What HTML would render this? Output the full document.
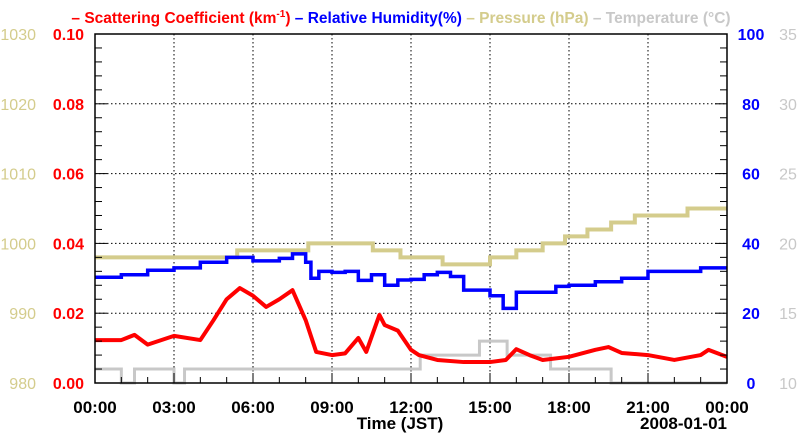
<!DOCTYPE html>
<html><head><meta charset="utf-8"><style>
body{margin:0;background:#fff;}
svg{display:block;font-family:"Liberation Sans",sans-serif;}
</style></head><body>
<svg id="c" width="800" height="434">
<text x="401" y="23" text-anchor="middle" font-size="15.5" font-weight="bold"><tspan fill="#ff0000">– Scattering Coefficient (km</tspan><tspan fill="#ff0000" font-size="10" dy="-6">-1</tspan><tspan fill="#ff0000" dy="6">) </tspan><tspan fill="#0000ff">– Relative Humidity(%) </tspan><tspan fill="#d4cc8c">– Pressure (hPa) </tspan><tspan fill="#c8c8c8">– Temperature (°C)</tspan></text>
<g id="grid"></g>
<g id="series"></g>
<g id="axes"></g>
<text x="400" y="429" text-anchor="middle" font-size="17" font-weight="bold">Time (JST)</text>
<text x="727" y="429" text-anchor="end" font-size="17" font-weight="bold">2008-01-01</text>
</svg>
<script>
const xTicks=["00:00","03:00","06:00","09:00","12:00","15:00","18:00","21:00","00:00"];
const scatTicks=["0.00","0.02","0.04","0.06","0.08","0.10"];
const presTicks=["980","990","1000","1010","1020","1030"];
const rhTicks=["0","20","40","60","80","100"];
const tempTicks=["10","15","20","25","30","35"];
const scatH=[0,1,1.5,2,3,4,4.5,5,5.5,6,6.5,7,7.5,8,8.4,9,9.5,10,10.3,10.8,11,11.5,12,12.3,13,14,15,15.6,16,16.5,17,18,19,19.5,20,21,22,23,23.3,24];
const scatV=[0.0123,0.0123,0.0138,0.011,0.0135,0.0123,0.018,0.024,0.0272,0.025,0.0218,0.024,0.0266,0.018,0.0089,0.008,0.0085,0.0129,0.0089,0.0195,0.0166,0.015,0.0095,0.008,0.0066,0.006,0.006,0.0066,0.0097,0.008,0.0066,0.0075,0.0095,0.0103,0.0086,0.008,0.0066,0.008,0.0095,0.0075];
const rhH=[0,1,2,3,4,5,6,7,7.5,8,8.2,8.5,9,9.5,10,10.5,11,11.5,12,12.5,13,13.5,14,15,15.5,16,17,17.5,18,19,20,21,22,23,24];
const rhV=[30.3,31,32.3,33,34.6,36,35,35.7,37,34.6,30,32,31.7,32,29.4,31,28,29.5,29.7,31,31.7,30.5,26.6,25,21.4,26,26,27.7,28,29,30,32,32,33,33];
const presH=[0,5.4,8.1,10.55,11.6,13.2,15.0,16.0,17.0,17.85,18.7,19.6,20.5,22.5,24];
const presV=[998,999,1000,999,998,997,998,999,1000,1001,1002,1003,1004,1005,1005];
const tempH=[0,1.0,1.5,3.0,3.4,12.35,14.6,15.65,17.3,19.6,24];
const tempV=[11,10,11,10,11,12,13,12,11,10,10];
const L=95,R=727,T=34,B=383;
const X=h=>L+h/24*(R-L);
const yS=v=>B-v/0.1*(B-T), yP=v=>B-(v-980)/50*(B-T), yR=v=>B-v/100*(B-T), yT=v=>B-(v-10)/25*(B-T);
const NS="http://www.w3.org/2000/svg";
function mk(p,tag,at){const e=document.createElementNS(NS,tag);for(const k in at)e.setAttribute(k,at[k]);p.appendChild(e);return e;}
const grid=document.getElementById('grid'),ser=document.getElementById('series'),ax=document.getElementById('axes');
for(let i=1;i<8;i++){const l=mk(grid,'line',{x1:X(i*3),x2:X(i*3),y1:T,y2:B,stroke:'#000','stroke-dasharray':'1.5,2.5','stroke-width':1});
}
for(let i=1;i<5;i++){const y=yS(i*0.02);const l=mk(grid,'line',{x1:L,x2:R,y1:y,y2:y,stroke:'#000','stroke-dasharray':'1.5,2.5','stroke-width':1});
}
function step(H,V,f){let d='M'+X(H[0])+','+f(V[0]);for(let i=1;i<H.length;i++){d+='H'+X(H[i])+'V'+f(V[i]);}return d;}
function line(H,V,f){return H.map((h,i)=>(i?'L':'M')+X(h)+','+f(V[i])).join('');}
let p=mk(ser,'path',{d:step(tempH,tempV,yT),fill:'none',stroke:'#c8c8c8','stroke-width':3});

p=mk(ser,'path',{d:step(presH,presV,yP),fill:'none',stroke:'#d4cc8c','stroke-width':4});

p=mk(ser,'path',{d:step(rhH,rhV,yR),fill:'none',stroke:'#0000ff','stroke-width':3.5});

p=mk(ser,'path',{d:line(scatH,scatV,yS),fill:'none',stroke:'#ff0000','stroke-width':4,'stroke-linejoin':'round'});

const fr=mk(ax,'rect',{x:L,y:T,width:R-L,height:B-T,fill:'none',stroke:'#000','stroke-width':1.5});

for(let i=0;i<=24;i++){const len=i%3?6:10;mk(ax,'line',{x1:X(i),x2:X(i),y1:B,y2:B-len,stroke:'#000','stroke-width':1});}
for(let i=0;i<=25;i++){const y=T+i*(B-T)/25,len=i%5?7:12;mk(ax,'line',{x1:L,x2:L+len,y1:y,y2:y,stroke:'#000'});mk(ax,'line',{x1:R,x2:R-len,y1:y,y2:y,stroke:'#000'});}
xTicks.forEach((t,i)=>{const e=mk(ax,'text',{x:X(i*3),y:413,'text-anchor':'middle','font-size':17,'font-weight':'bold'});e.textContent=t;
});
for(let i=0;i<6;i++){const y=yS(i*0.02)+6;
let e=mk(ax,'text',{x:84,y:y,'text-anchor':'end','font-size':16,'font-weight':'bold',fill:'#ff0000'});e.textContent=scatTicks[i];

e=mk(ax,'text',{x:36,y:y,'text-anchor':'end','font-size':16,fill:'#d4cc8c'});e.textContent=presTicks[i];

e=mk(ax,'text',{x:751,y:y,'text-anchor':'middle','font-size':16,'font-weight':'bold',fill:'#0000ff'});e.textContent=rhTicks[i];

e=mk(ax,'text',{x:788,y:y,'text-anchor':'middle','font-size':16,fill:'#c8c8c8'});e.textContent=tempTicks[i];
}
</script>
</body></html>
